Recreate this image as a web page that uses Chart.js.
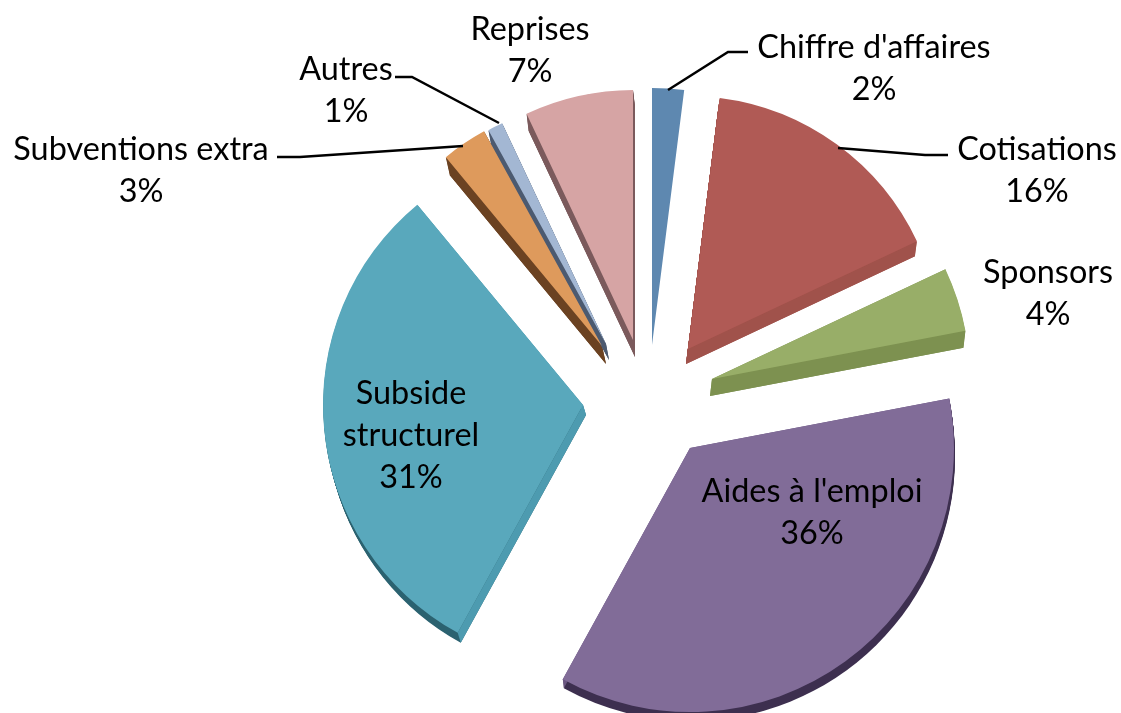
<!DOCTYPE html>
<html>
<head>
<meta charset="utf-8">
<style>
  html, body { margin: 0; padding: 0; background: #fff; }
  canvas { display: block; }
</style>
<script src="https://cdn.jsdelivr.net/npm/chart.js@4/dist/chart.umd.min.js"></script>
</head>
<body>
<canvas id="myChart" width="1121" height="713"></canvas>
<script>
const categories = ["Chiffre d'affaires", 'Cotisations', 'Sponsors', "Aides à l'emploi", 'Subside structurel', 'Subventions extra', 'Autres', 'Reprises'];
const values = [2, 16, 4, 36, 31, 3, 1, 7];

// styling per slice, same order as categories
const topColors = ['#5e88b0', '#b05a55', '#98ae68', '#816c98', '#59a8bc', '#de9a5c', '#a3b7d3', '#d6a4a4'];
const wallColors = ['#4c7296', '#a0524b', '#7d9150', '#6a5680', '#4d9bb0', '#6b4222', '#4c5a70', '#7b5a5c'];
const rimColors = ['#4c7296', '#a0524b', '#7d9150', '#3d2f4f', '#2b6270', '#6b4222', '#4c5a70', '#7b5a5c'];
const explodeX = [2, 38, 62, 40, -67, -48, -44, -17];
const explodeY = [-53, -49, -19, 50, 7, -52, -54, -58];
const radii = [257, 253, 258, 264, 260, 245, 244, 250];
const depthX = [0, -2, -2, 1, 3, 4, 3, 2];
const depthY = [0, 15, 17, 9, 10, 18, 16, 17];

const labelFont = '32.4px Lato';
const lineGap = 42;
// text: lines, centre x, centre y of first line
const labelBlocks = [
  { lines: ["Chiffre d'affaires", '2%'], x: 874, y: 48 },
  { lines: ['Cotisations', '16%'], x: 1037, y: 150 },
  { lines: ['Sponsors', '4%'], x: 1048, y: 273 },
  { lines: ["Aides à l'emploi", '36%'], x: 812, y: 492 },
  { lines: ['Subside', 'structurel', '31%'], x: 411, y: 394 },
  { lines: ['Subventions extra', '3%'], x: 141, y: 150 },
  { lines: ['Autres', '1%'], x: 346, y: 70 },
  { lines: ['Reprises', '7%'], x: 530, y: 30 }
];
const leaders = [
  [[668, 90], [728, 52], [748, 52]],
  [[838, 148], [925, 155], [948, 155]],
  [[499, 123], [412, 77], [395, 77]],
  [[463, 146], [300, 157], [277, 157]]
];

const pie3d = {
  id: 'pie3d',
  // exploded and shortened by hand, the far slices look shorter in the original
  afterDatasetsUpdate(chart) {
    chart.getDatasetMeta(0).data.forEach((arc, i) => {
      arc.x += explodeX[i];
      arc.y += explodeY[i];
      arc.outerRadius = radii[i];
    });
  },
  beforeDatasetsDraw(chart) {
    const ctx = chart.ctx;
    chart.getDatasetMeta(0).data.forEach((arc, i) => {
      const dy = depthY[i], dx = depthX[i];
      if (!dy) return;
      const r = radii[i];
      ctx.save();
      // outer rim: swept copies of the slice
      ctx.fillStyle = rimColors[i];
      for (let s = 1; s <= dy; s++) {
        const ox = arc.x + dx * s / dy, oy = arc.y + s;
        ctx.beginPath();
        ctx.moveTo(ox, oy);
        ctx.arc(ox, oy, r, arc.startAngle, arc.endAngle);
        ctx.closePath();
        ctx.fill();
      }
      // straight walls
      ctx.fillStyle = wallColors[i];
      [arc.startAngle, arc.endAngle].forEach(ang => {
        const ex = arc.x + Math.cos(ang) * r, ey = arc.y + Math.sin(ang) * r;
        ctx.beginPath();
        ctx.moveTo(arc.x, arc.y);
        ctx.lineTo(ex, ey);
        ctx.lineTo(ex + dx, ey + dy);
        ctx.lineTo(arc.x + dx, arc.y + dy);
        ctx.closePath();
        ctx.fill();
      });
      ctx.restore();
    });
  },
  afterDatasetsDraw(chart) {
    const ctx = chart.ctx;
    ctx.save();
    ctx.strokeStyle = '#000';
    ctx.lineWidth = 2.5;
    leaders.forEach(pts => {
      ctx.beginPath();
      pts.forEach((p, i) => i ? ctx.lineTo(p[0], p[1]) : ctx.moveTo(p[0], p[1]));
      ctx.stroke();
    });
    ctx.fillStyle = '#000';
    ctx.font = labelFont;
    ctx.textAlign = 'center';
    ctx.textBaseline = 'middle';
    labelBlocks.forEach(b => {
      b.lines.forEach((t, i) => ctx.fillText(t, b.x, b.y + i * lineGap));
    });
    ctx.restore();
  }
};

let ctx = document.getElementById('myChart').getContext('2d');
let myChart = new Chart(ctx, {
  type: 'pie',
  data: {
    labels: categories,
    datasets: [{
      data: values,
      backgroundColor: topColors,
      borderWidth: 0,
      radius: 260,
      clip: false
    }]
  },
  options: {
    responsive: false,
    animation: false,
    layout: { padding: { left: 179, top: 83, right: 0, bottom: 0 } },
    plugins: {
      legend: { display: false },
      title: { display: false },
      tooltip: { enabled: false }
    }
  },
  plugins: [pie3d]
});
</script>
</body>
</html>
